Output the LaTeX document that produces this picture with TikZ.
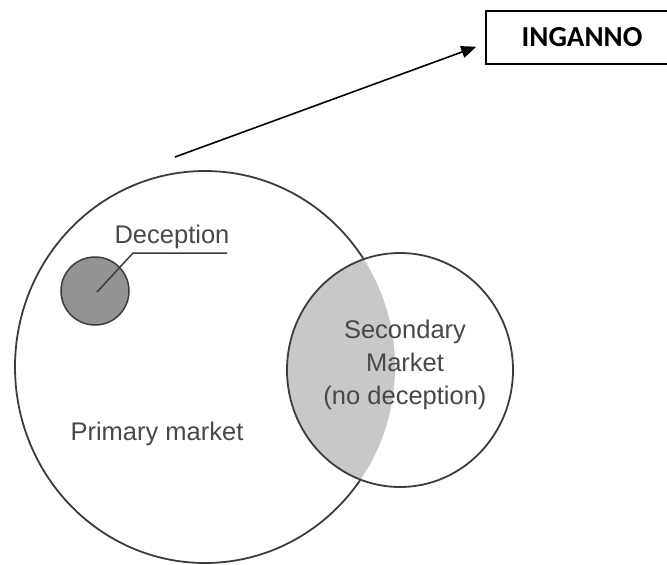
\documentclass[tikz,border=0pt]{standalone}
\usepackage{fontspec}
\setmainfont{Liberation Sans}
\newfontfamily\ingfont{Carlito}
\usetikzlibrary{arrows.meta}
\definecolor{lin}{HTML}{3C3C3C}
\definecolor{txt}{HTML}{484848}
\definecolor{dot}{HTML}{939393}
\definecolor{lens}{HTML}{C8C8C8}
\tikzset{
  ring/.style={draw=lin, line width=1.8pt},
  lbl/.style={text=txt, font=\fontsize{25.5}{33}\selectfont, inner sep=0pt},
  arr/.style={draw=black, line width=1.6pt, -{Triangle[length=15pt,width=12pt]}},
  boxnode/.style={draw=black, line width=1.6pt, minimum width=192pt, minimum height=53pt, inner sep=0pt,
    font=\ingfont\bfseries\fontsize{29}{30}\selectfont}
}
\begin{document}
\begin{tikzpicture}[x=1pt,y=-1pt]
\useasboundingbox (0,0) rectangle (667,565);
% primary market
\draw[ring] (205,367) ellipse [x radius=190pt, y radius=196pt];
\fill[white] (400,370) ellipse [x radius=113pt, y radius=117pt];
\begin{scope}
  \clip (205,367) ellipse [x radius=190pt, y radius=196pt];
  \fill[lens] (400,370) ellipse [x radius=113pt, y radius=117pt];
\end{scope}
\draw[ring] (400,370) ellipse [x radius=113pt, y radius=117pt];
% deception dot
\draw[draw=lin, line width=1.5pt, fill=dot] (95,291) circle [radius=34pt];
\coordinate (dc) at (97,292);
\coordinate (dk) at (133,253);
\coordinate (de) at (227,253);
\draw[draw=lin, line width=1.5pt] (dc) -- (dk) -- (de);
% labels
\node[lbl, anchor=base] (decep) at (172,243) {Deception};
\node[lbl, anchor=base] (prim) at (157,440) {Primary market};
\node[lbl, align=center] (sec) at (405,365) {Secondary\\Market\\(no deception)};
% INGANNO
\node[boxnode] (ing) at (582,37.5) {\raisebox{-3.5pt}{INGANNO}};
\coordinate (s) at (175,157);
\draw[arr, shorten >=9.5pt] (s) -- ([yshift=-6pt]ing.west);
\end{tikzpicture}
\end{document}
